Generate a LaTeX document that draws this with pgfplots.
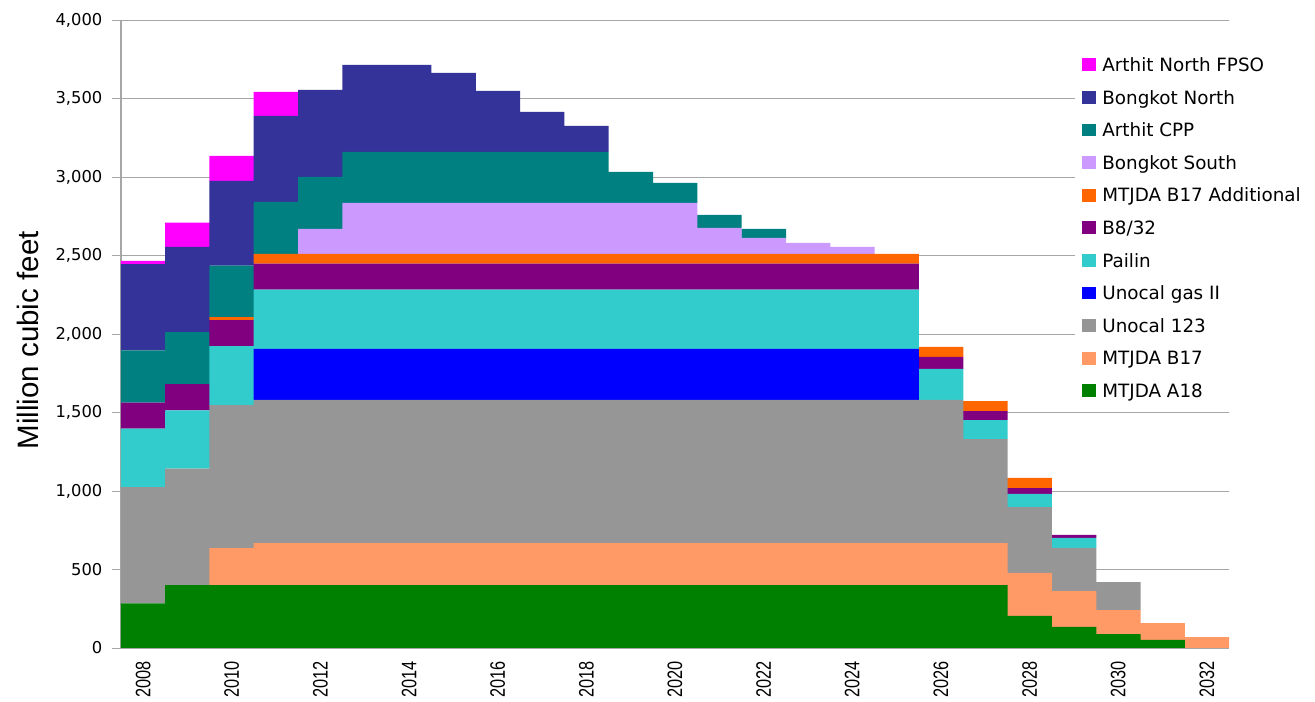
\documentclass[border=0pt]{standalone}
\usepackage{fontspec}
\setmainfont{DejaVu Sans}
\newfontfamily\arialfont{Liberation Sans}
\newfontfamily\arialnarrow{Liberation Sans}[FakeStretch=0.78]
\usepackage{pgfplots}
\pgfplotsset{compat=1.18}
\usepackage{pgfplotstable}

\definecolor{cA18}{HTML}{008000}
\definecolor{cB17}{HTML}{FF9966}
\definecolor{cU123}{HTML}{969696}
\definecolor{cUG2}{HTML}{0000FF}
\definecolor{cPailin}{HTML}{33CCCC}
\definecolor{cB832}{HTML}{800080}
\definecolor{cB17Add}{HTML}{FF6600}
\definecolor{cBkS}{HTML}{CC99FF}
\definecolor{cArtCPP}{HTML}{008080}
\definecolor{cBkN}{HTML}{333399}
\definecolor{cArtNF}{HTML}{FF00FF}
\definecolor{axgray}{HTML}{A6A6A6}

\pgfplotstableread{
year A18 B17 U123 UG2 Pailin B832 B17Add BkS ArtCPP BkN ArtNF
2008 285 0 740 0 372 166 0 0 333 549 20
2009 400 0 742 0 371 167 0 0 332 543 155
2010 400 236 911 0 376 166 19 0 327 540 159
2011 400 268 913 325 376 166 63 0 331 548 152
2012 400 268 913 325 376 166 63 159 331 554 0
2013 400 268 913 325 376 166 63 324 325 554 0
2014 400 268 913 325 376 166 63 324 325 554 0
2015 400 268 913 325 376 166 63 324 325 503 0
2016 400 268 913 325 376 166 63 324 325 389 0
2017 400 268 913 325 376 166 63 324 325 255 0
2018 400 268 913 325 376 166 63 324 325 166 0
2019 400 268 913 325 376 166 63 324 198 0 0
2020 400 268 913 325 376 166 63 324 128 0 0
2021 400 268 913 325 376 166 63 165 83 0 0
2022 400 268 913 325 376 166 63 101 58 0 0
2023 400 268 913 325 376 166 63 70 0 0 0
2024 400 268 913 325 376 166 63 44 0 0 0
2025 400 268 913 325 376 166 63 0 0 0 0
2026 400 268 913 0 197 77 63 0 0 0 0
2027 400 268 662 0 121 58 63 0 0 0 0
2028 204 274 420 0 83 38 64 0 0 0 0
2029 134 229 274 0 64 19 0 0 0 0 0
2030 89 153 178 0 0 0 0 0 0 0 0
2031 51 108 0 0 0 0 0 0 0 0 0
2032 0 70 0 0 0 0 0 0 0 0 0
}\data

\begin{document}
\begin{tikzpicture}
\path[use as bounding box] (-60.5bp,-27bp) rectangle (597bp,324bp);
\begin{axis}[
  at={(0,0)}, anchor=south west,
  scale only axis, width=554bp, height=314bp,
  ybar stacked, bar width=1.01,
  xmin=2007.5, xmax=2032.5, ymin=0, ymax=4000,
  xtick={2008,2010,...,2032},
  ytick={0,500,...,4000},
  /pgf/number format/assume math mode=true,
  x tick label style={rotate=90, anchor=east, inner sep=0pt, font=\arialnarrow\fontsize{10.5}{12}\selectfont, /pgf/number format/1000 sep={}},
  xticklabel shift=2bp,
  y tick label style={font=\fontsize{8.2}{10}\selectfont, /pgf/number format/1000 sep={,}},
  yticklabel shift=1.3bp,
  ymajorgrids, grid style={color=axgray, line width=0.5bp},
  axis x line*=bottom, axis y line*=left,
  axis line style={color=axgray, line width=0.6bp},
  x tick style={draw=none},
  y tick style={color=axgray, line width=0.5bp},
  tick align=outside, major tick length=4.5bp,
  every axis y label/.style={at={(rel axis cs:-0.084,0.49)}, rotate=90, anchor=center, font=\arialfont\fontsize{14.8}{17}\selectfont},
  ylabel={Million cubic feet},
  reverse legend,
  legend style={at={(rel axis cs:0.861,0.952)}, anchor=north west, draw=none, fill=white,
    inner xsep=3.5bp, inner ysep=3.5bp, font=\fontsize{9.2}{11}\selectfont, row sep=6.8bp,
    cells={anchor=base west},
    nodes={inner sep=0pt, text height=7bp, text depth=2.5bp},
    /tikz/every odd column/.append style={column sep=3bp}},
  legend image code/.code={\path[#1,draw=none] (0bp,0.2bp) rectangle (7bp,6.6bp);},
]
\addplot[fill=cA18, draw=none] table[x=year, y=A18] {\data};
\addlegendentry{MTJDA A18}
\addplot[fill=cB17, draw=none] table[x=year, y=B17] {\data};
\addlegendentry{MTJDA B17}
\addplot[fill=cU123, draw=none] table[x=year, y=U123] {\data};
\addlegendentry{Unocal 123}
\addplot[fill=cUG2, draw=none] table[x=year, y=UG2] {\data};
\addlegendentry{Unocal gas II}
\addplot[fill=cPailin, draw=none] table[x=year, y=Pailin] {\data};
\addlegendentry{Pailin}
\addplot[fill=cB832, draw=none] table[x=year, y=B832] {\data};
\addlegendentry{B8/32}
\addplot[fill=cB17Add, draw=none] table[x=year, y=B17Add] {\data};
\addlegendentry{MTJDA B17 Additional}
\addplot[fill=cBkS, draw=none] table[x=year, y=BkS] {\data};
\addlegendentry{Bongkot South}
\addplot[fill=cArtCPP, draw=none] table[x=year, y=ArtCPP] {\data};
\addlegendentry{Arthit CPP}
\addplot[fill=cBkN, draw=none] table[x=year, y=BkN] {\data};
\addlegendentry{Bongkot North}
\addplot[fill=cArtNF, draw=none] table[x=year, y=ArtNF] {\data};
\addlegendentry{Arthit North FPSO}
\end{axis}
\end{tikzpicture}
\end{document}
